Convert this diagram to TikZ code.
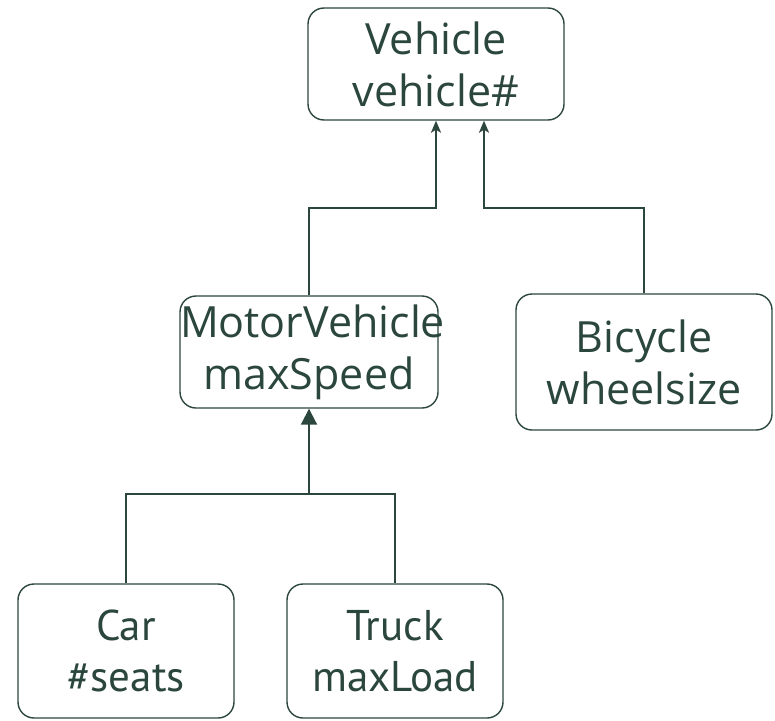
\documentclass[tikz,border=0pt]{standalone}
\usepackage{fontspec}
\setmainfont{Open Sans}
\newfontfamily\boldish{PT Sans}
\usetikzlibrary{arrows.meta}
\definecolor{ink}{HTML}{2B463C}
\begin{document}
\begin{tikzpicture}[x=1pt,y=-1pt,
  cls/.style={draw=ink,line width=1.4pt,rounded corners=16pt,inner sep=0pt,
    text=ink,align=center,font=\fontsize{43}{52}\selectfont},
  cls2/.style={cls,font=\boldish\fontsize{43}{51}\selectfont},
  conn/.style={draw=ink,line width=2pt}]
\useasboundingbox (0,0) rectangle (775,720);
\node[cls,minimum width=256pt,minimum height=112pt] (veh) at (436,64) {Vehicle\\vehicle\#};
\node[cls,minimum width=258pt,minimum height=112pt,text width=258pt] (mv) at (309,352) {MotorVehicle\\maxSpeed};
\node[cls,minimum width=256pt,minimum height=136pt] (bic) at (644,362) {Bicycle\\wheelsize};
\node[cls2,minimum width=216pt,minimum height=134pt] (car) at (126,651) {Car\\\#seats};
\node[cls2,minimum width=216pt,minimum height=134pt] (truck) at (395,651) {Truck\\maxLoad};
\coordinate (j1) at (309,208);
\coordinate (j2) at (436,208);
\coordinate (j3) at (644,208);
\coordinate (j4) at (484,208);
\coordinate (j5) at (126,494);
\coordinate (j6) at (395,494);
\coordinate (j7) at (309,494);
\draw[conn,-{Stealth[length=12pt,width=10pt,inset=3pt]}] (mv.north) -- (j1) -- (j2) -- (veh.south -| j2);
\draw[conn,-{Stealth[length=12pt,width=10pt,inset=3pt]}] (bic.north) -- (j3) -- (j4) -- (veh.south -| j4);
\draw[conn] (car.north) -- (j5) -- (j6) -- (truck.north);
\draw[conn,-{Triangle[length=16pt,width=16pt]}] (j7) -- (mv.south);
\end{tikzpicture}
\end{document}
